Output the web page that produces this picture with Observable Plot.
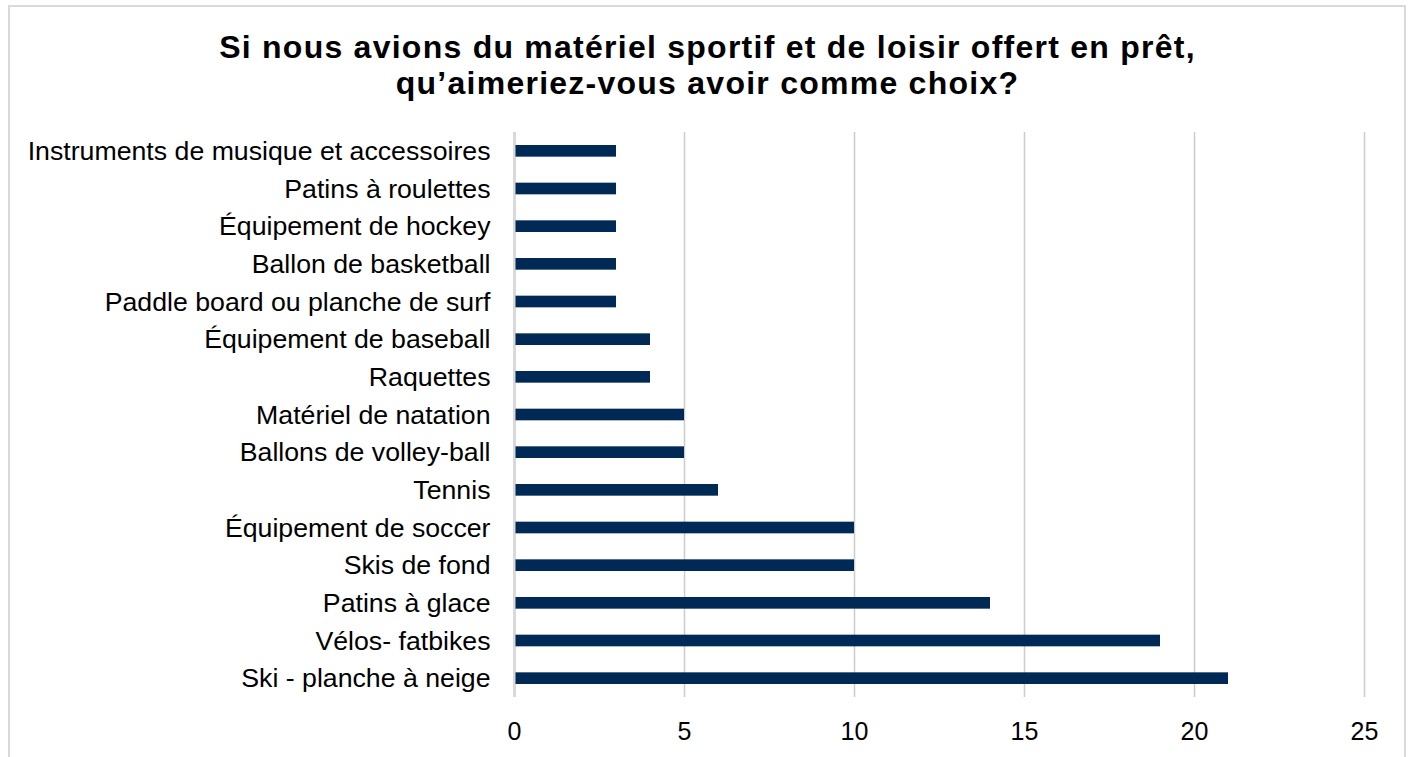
<!DOCTYPE html>
<html>
<head>
<meta charset="utf-8">
<script src="https://cdn.jsdelivr.net/npm/d3@7"></script>
<script src="https://cdn.jsdelivr.net/npm/@observablehq/plot@0.6"></script>
<style>
  html, body { margin: 0; padding: 0; background: #fff; }
  body { width: 1415px; height: 757px; overflow: hidden; position: relative; font-family: "Liberation Sans", Arial, sans-serif; }
  #frame { position: absolute; left: 8px; top: 5px; width: 1398px; height: 800px; border: 2px solid #d9d9d9; box-sizing: border-box; }
  #wrap { position: absolute; left: 0; top: 0; width: 1415px; }
  #title { height: 110px; box-sizing: border-box; padding-top: 29px; text-align: center; font-weight: bold; font-size: 32px; line-height: 36px; letter-spacing: 1.25px; color: #000; }
  svg { display: block; }
</style>
</head>
<body>
<div id="frame"></div>
<div id="wrap">
  <div id="title">Si nous avions du matériel sportif et de loisir offert en prêt,<br>qu’aimeriez-vous avoir comme choix?</div>
  <div id="chart"></div>
</div>
<script>
const categories = [
  "Instruments de musique et accessoires",
  "Patins à roulettes",
  "Équipement de hockey",
  "Ballon de basketball",
  "Paddle board ou planche de surf",
  "Équipement de baseball",
  "Raquettes",
  "Matériel de natation",
  "Ballons de volley-ball",
  "Tennis",
  "Équipement de soccer",
  "Skis de fond",
  "Patins à glace",
  "Vélos- fatbikes",
  "Ski - planche à neige"
];
const values = [3, 3, 3, 3, 3, 4, 4, 5, 5, 6, 10, 10, 14, 19, 21];
const xTicks = [0, 5, 10, 15, 20, 25];

const data = categories.map((c, i) => ({category: c, value: values[i]}));

const chart = Plot.plot({
  width: 1415,
  height: 647,
  marginTop: 22,
  marginBottom: 60,
  marginLeft: 514,
  marginRight: 51,
  style: {fontFamily: "'Liberation Sans', Arial, sans-serif", fontSize: "26.7px", color: "#000", background: "transparent"},
  x: {domain: [0, 25], ticks: xTicks, label: null, tickSize: 0, tickPadding: 25},
  y: {domain: categories, label: null, paddingInner: 0, paddingOuter: 0, round: false, tickSize: 0, tickPadding: 24},
  marks: [
    Plot.ruleX(xTicks.filter(d => d > 0), {stroke: "#cccccc", strokeWidth: 1.5}),
    Plot.ruleX([0], {stroke: "#d9d9d9", strokeWidth: 3}),
    Plot.barX(data, {x1: 0, x2: "value", y: "category", fill: "#002A55", insetTop: 13, insetBottom: 13, insetLeft: 1.5}),
    Plot.axisX({ticks: xTicks, tickSize: 0, tickPadding: 25, fontSize: 25, label: null}),
    Plot.axisY({tickSize: 0, tickPadding: 24, fontSize: 26.7, label: null})
  ]
});
document.getElementById("chart").appendChild(chart);
</script>
</body>
</html>
